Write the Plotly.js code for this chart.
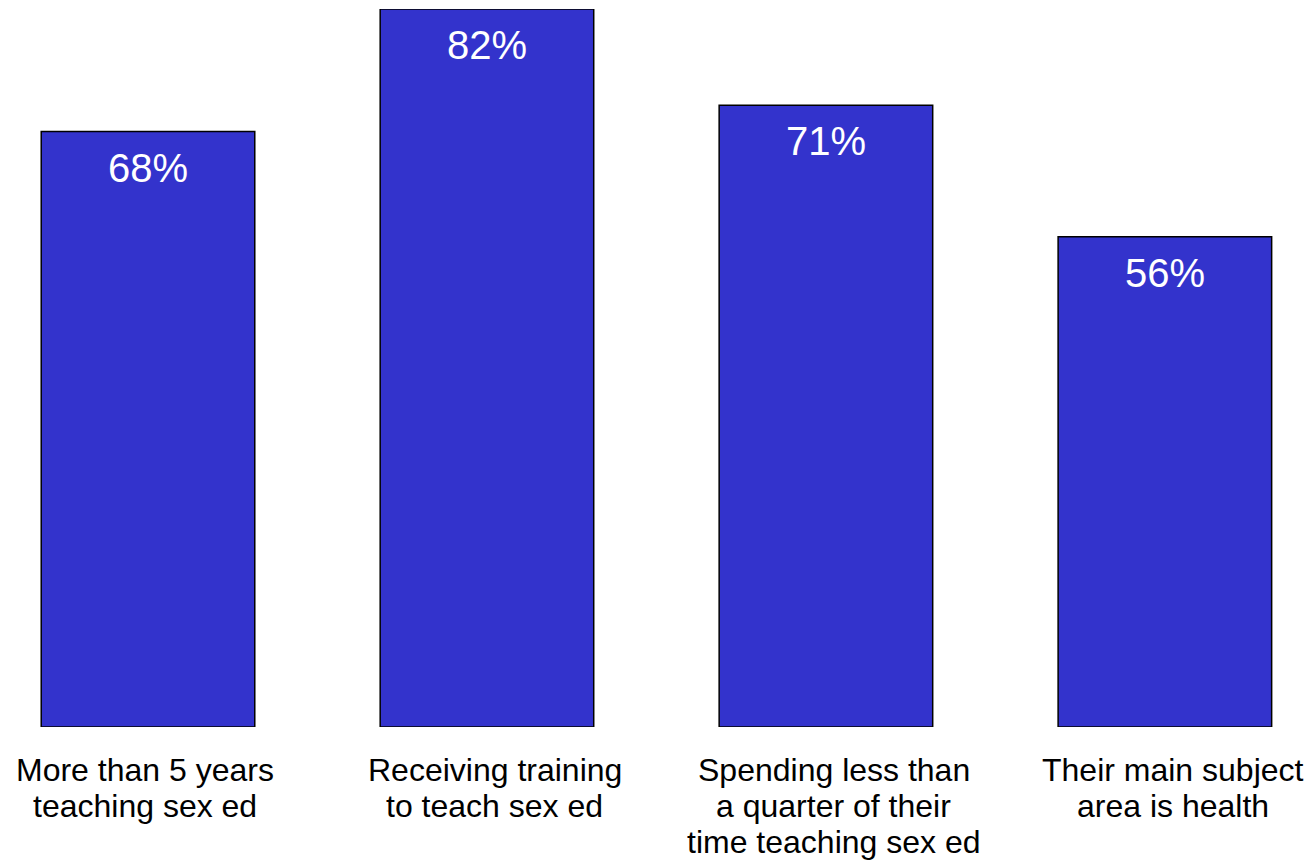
<!DOCTYPE html>
<html>
<head>
<meta charset="utf-8">
<script src="https://cdn.plot.ly/plotly-3.0.1.min.js"></script>
<style>html,body{margin:0;padding:0;background:#fff;}#chart{width:1312px;height:862px;}</style>
</head>
<body>
<div id="chart"></div>
<script>
const categories = [
  "More than 5 years<br>teaching sex ed",
  "Receiving training<br>to teach sex ed",
  "Spending less than<br>a quarter of their<br>time teaching sex ed",
  "Their main subject<br>area is health"
];
const values = [68, 82, 71, 56];
const valueLabels = ["68%", "82%", "71%", "56%"];

const xIdx = categories.map((c, i) => i);

const trace = {
  type: "bar",
  x: xIdx,
  y: values,
  width: 0.63,
  marker: { color: "#3333CC", line: { color: "#000000", width: 1.5 } },
  hoverinfo: "skip"
};

const annotations = [];
values.forEach((v, i) => {
  annotations.push({
    x: i, y: v, xref: "x", yref: "y",
    text: valueLabels[i], showarrow: false,
    yanchor: "middle", xanchor: "center", yshift: -36,
    font: { family: "Liberation Sans, Arial, sans-serif", size: 40, color: "#ffffff" }
  });
});
categories.forEach((c, i) => {
  c.split("<br>").forEach((line, j) => {
    annotations.push({
      x: i, y: 0, xref: "x", yref: "y",
      text: line, showarrow: false,
      yanchor: "middle", xanchor: "center", yshift: -(43 + 36 * j), xshift: (i === 0 ? -3 : 8),
      font: { family: "Liberation Sans, Arial, sans-serif", size: 32, color: "#000000" }
    });
  });
});

const layout = {
  width: 1312, height: 862,
  margin: { l: 0, r: 0, t: 9, b: 135, pad: 0 },
  paper_bgcolor: "#ffffff", plot_bgcolor: "#ffffff",
  showlegend: false,
  xaxis: { range: [-0.4366, 3.434], showgrid: false, zeroline: false, showticklabels: false, ticks: "", showline: false },
  yaxis: { range: [0, 82], showgrid: false, zeroline: false, showticklabels: false, ticks: "", showline: false },
  annotations: annotations
};

Plotly.newPlot("chart", [trace], layout, { displayModeBar: false, staticPlot: true });
</script>
</body>
</html>
